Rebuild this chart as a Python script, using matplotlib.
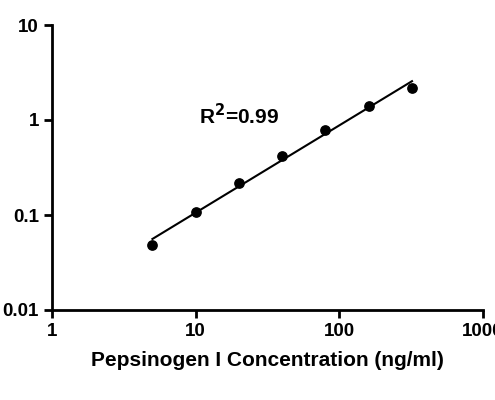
import matplotlib

matplotlib.use("Agg")
import matplotlib.pyplot as plt
import numpy as np

plt.rcParams["font.family"] = ["Liberation Sans", "DejaVu Sans"]

conc = [5, 10, 20, 40, 80, 160, 320]
signal = [0.048, 0.108, 0.215, 0.42, 0.78, 1.42, 2.15]

fig = plt.figure(figsize=(4.95, 4.0), dpi=100)
ax = fig.add_axes([0.105, 0.225, 0.871, 0.7125])

ax.scatter(conc, signal, s=45, color="black", zorder=3)
slope, icpt = np.polyfit(np.log10(conc), np.log10(signal), 1)
xf = np.array([conc[0], conc[-1]])
ax.plot(xf, 10 ** (icpt + slope * np.log10(xf)), color="black", lw=1.5)

ax.set_xscale("log")
ax.set_yscale("log")
ax.set_xlim(1, 1000)
ax.set_ylim(0.01, 10)
ax.set_xticks([1, 10, 100, 1000], ["1", "10", "100", "1000"])
ax.set_yticks([0.01, 0.1, 1, 10], ["0.01", "0.1", "1", "10"])
ax.minorticks_off()
for s in ["top", "right"]:
    ax.spines[s].set_visible(False)
for s in ["left", "bottom"]:
    ax.spines[s].set_linewidth(2)
ax.tick_params(width=2, length=6, labelsize=13.5)
for lab in ax.get_xticklabels() + ax.get_yticklabels():
    lab.set_fontweight("bold")
ax.set_xlabel("Pepsinogen I Concentration (ng/ml)", fontsize=15, fontweight="bold", labelpad=8)
ax.text(20, 0.9, "R$^\\mathbf{2}$=0.99", fontsize=15, fontweight="bold", ha="center")

fig.savefig("out.png", dpi=100)
